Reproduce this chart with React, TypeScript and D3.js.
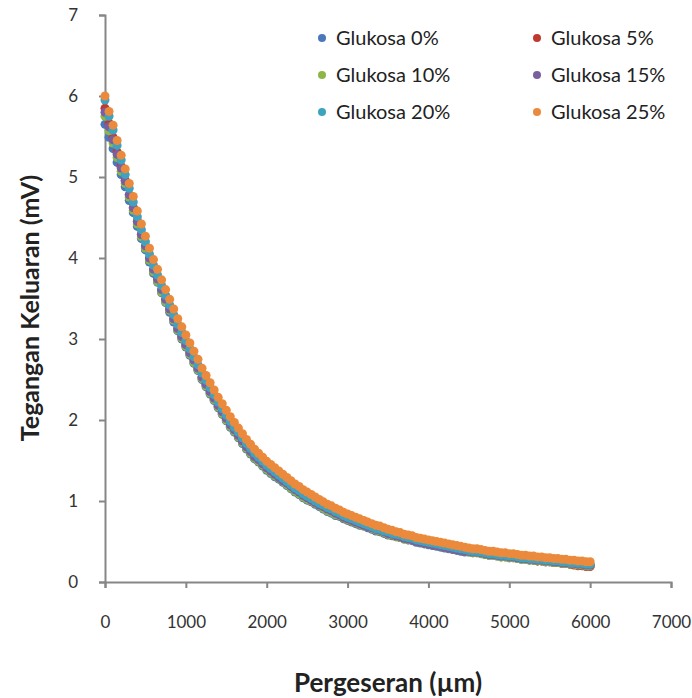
import React, { useEffect, useRef } from 'react';
import * as d3 from 'd3';

// Pergeseran (µm), sampled every 50 µm
const pergeseran = [
  0, 50, 100, 150, 200, 250, 300, 350, 400, 450, 500, 550, 600, 650, 700, 750, 800, 850, 900, 950,
  1000, 1050, 1100, 1150, 1200, 1250, 1300, 1350, 1400, 1450, 1500, 1550, 1600, 1650, 1700, 1750, 1800, 1850, 1900, 1950,
  2000, 2050, 2100, 2150, 2200, 2250, 2300, 2350, 2400, 2450, 2500, 2550, 2600, 2650, 2700, 2750, 2800, 2850, 2900, 2950,
  3000, 3050, 3100, 3150, 3200, 3250, 3300, 3350, 3400, 3450, 3500, 3550, 3600, 3650, 3700, 3750, 3800, 3850, 3900, 3950,
  4000, 4050, 4100, 4150, 4200, 4250, 4300, 4350, 4400, 4450, 4500, 4550, 4600, 4650, 4700, 4750, 4800, 4850, 4900, 4950,
  5000, 5050, 5100, 5150, 5200, 5250, 5300, 5350, 5400, 5450, 5500, 5550, 5600, 5650, 5700, 5750, 5800, 5850, 5900, 5950,
  6000,
];

const glukosa0 = [
  5.65, 5.49, 5.35, 5.18, 5.03, 4.88, 4.71, 4.56, 4.39, 4.24, 4.10, 3.95, 3.81, 3.70, 3.57, 3.45, 3.33, 3.21, 3.10, 3.00,
  2.90, 2.80, 2.70, 2.61, 2.50, 2.41, 2.32, 2.24, 2.15, 2.07, 1.99, 1.91, 1.85, 1.78, 1.71, 1.64, 1.58, 1.52, 1.48, 1.43,
  1.38, 1.34, 1.30, 1.27, 1.23, 1.19, 1.15, 1.11, 1.08, 1.04, 1.01, 0.99, 0.96, 0.93, 0.90, 0.87, 0.85, 0.82, 0.81, 0.78,
  0.76, 0.74, 0.72, 0.70, 0.69, 0.67, 0.65, 0.63, 0.62, 0.60, 0.58, 0.57, 0.56, 0.55, 0.53, 0.52, 0.51, 0.49, 0.48, 0.47,
  0.46, 0.45, 0.44, 0.43, 0.42, 0.41, 0.40, 0.39, 0.38, 0.37, 0.37, 0.36, 0.36, 0.35, 0.34, 0.33, 0.33, 0.32, 0.31, 0.31,
  0.30, 0.30, 0.29, 0.28, 0.28, 0.27, 0.27, 0.26, 0.26, 0.25, 0.25, 0.24, 0.24, 0.23, 0.23, 0.22, 0.22, 0.21, 0.21, 0.20,
  0.20,
];

const glukosa5 = [
  5.85, 5.66, 5.49, 5.31, 5.13, 4.96, 4.78, 4.62, 4.45, 4.29, 4.14, 3.99, 3.85, 3.73, 3.60, 3.49, 3.37, 3.25, 3.13, 3.03,
  2.93, 2.83, 2.73, 2.63, 2.53, 2.44, 2.35, 2.26, 2.17, 2.09, 2.02, 1.94, 1.87, 1.80, 1.73, 1.66, 1.60, 1.55, 1.50, 1.45,
  1.40, 1.36, 1.32, 1.29, 1.25, 1.21, 1.17, 1.13, 1.10, 1.06, 1.03, 1.00, 0.97, 0.95, 0.92, 0.89, 0.87, 0.84, 0.82, 0.79,
  0.77, 0.75, 0.73, 0.71, 0.70, 0.68, 0.66, 0.64, 0.63, 0.61, 0.59, 0.58, 0.56, 0.55, 0.54, 0.53, 0.52, 0.50, 0.49, 0.48,
  0.47, 0.46, 0.45, 0.44, 0.43, 0.42, 0.41, 0.40, 0.39, 0.38, 0.38, 0.37, 0.37, 0.36, 0.35, 0.34, 0.34, 0.33, 0.32, 0.32,
  0.31, 0.31, 0.30, 0.29, 0.29, 0.28, 0.27, 0.26, 0.26, 0.25, 0.25, 0.24, 0.24, 0.23, 0.23, 0.22, 0.21, 0.20, 0.20, 0.19,
  0.19,
];

const glukosa10 = [
  5.75, 5.57, 5.42, 5.24, 5.07, 4.92, 4.75, 4.59, 4.42, 4.26, 4.12, 3.97, 3.83, 3.71, 3.58, 3.46, 3.35, 3.23, 3.11, 3.01,
  2.91, 2.81, 2.71, 2.62, 2.51, 2.42, 2.33, 2.25, 2.16, 2.08, 2.00, 1.92, 1.86, 1.79, 1.72, 1.65, 1.59, 1.53, 1.49, 1.44,
  1.39, 1.35, 1.31, 1.28, 1.24, 1.20, 1.16, 1.12, 1.09, 1.05, 1.02, 1.00, 0.97, 0.94, 0.91, 0.88, 0.86, 0.83, 0.82, 0.79,
  0.77, 0.75, 0.73, 0.71, 0.69, 0.68, 0.66, 0.64, 0.63, 0.61, 0.59, 0.58, 0.56, 0.55, 0.53, 0.52, 0.52, 0.50, 0.49, 0.48,
  0.47, 0.46, 0.45, 0.44, 0.43, 0.42, 0.41, 0.40, 0.39, 0.38, 0.37, 0.36, 0.36, 0.35, 0.34, 0.33, 0.33, 0.32, 0.31, 0.31,
  0.30, 0.30, 0.29, 0.28, 0.28, 0.27, 0.27, 0.26, 0.26, 0.25, 0.25, 0.24, 0.24, 0.23, 0.23, 0.22, 0.22, 0.21, 0.21, 0.20,
  0.20,
];

const glukosa15 = [
  5.80, 5.62, 5.46, 5.28, 5.11, 4.95, 4.78, 4.62, 4.45, 4.29, 4.15, 4.00, 3.86, 3.74, 3.61, 3.49, 3.37, 3.25, 3.13, 3.03,
  2.93, 2.83, 2.74, 2.64, 2.53, 2.44, 2.35, 2.27, 2.18, 2.10, 2.02, 1.94, 1.88, 1.81, 1.74, 1.67, 1.61, 1.55, 1.51, 1.46,
  1.41, 1.37, 1.33, 1.29, 1.25, 1.22, 1.18, 1.14, 1.11, 1.07, 1.04, 1.01, 0.98, 0.95, 0.93, 0.90, 0.88, 0.85, 0.83, 0.80,
  0.78, 0.76, 0.74, 0.72, 0.70, 0.68, 0.67, 0.65, 0.64, 0.62, 0.60, 0.59, 0.57, 0.56, 0.54, 0.53, 0.52, 0.50, 0.49, 0.48,
  0.47, 0.46, 0.45, 0.44, 0.43, 0.42, 0.41, 0.40, 0.39, 0.38, 0.38, 0.37, 0.37, 0.36, 0.35, 0.34, 0.34, 0.33, 0.32, 0.32,
  0.31, 0.31, 0.30, 0.29, 0.29, 0.28, 0.28, 0.27, 0.27, 0.26, 0.26, 0.25, 0.25, 0.24, 0.24, 0.23, 0.23, 0.22, 0.22, 0.21,
  0.21,
];

const glukosa20 = [
  5.95, 5.75, 5.58, 5.39, 5.21, 5.03, 4.86, 4.69, 4.51, 4.35, 4.20, 4.05, 3.91, 3.79, 3.66, 3.54, 3.42, 3.30, 3.18, 3.08,
  2.98, 2.88, 2.78, 2.68, 2.58, 2.49, 2.40, 2.31, 2.22, 2.14, 2.06, 1.98, 1.91, 1.85, 1.78, 1.71, 1.65, 1.59, 1.54, 1.49,
  1.44, 1.40, 1.36, 1.32, 1.28, 1.24, 1.20, 1.16, 1.13, 1.09, 1.06, 1.03, 1.00, 0.97, 0.95, 0.92, 0.90, 0.87, 0.85, 0.82,
  0.80, 0.78, 0.76, 0.74, 0.72, 0.70, 0.68, 0.66, 0.65, 0.63, 0.62, 0.60, 0.59, 0.58, 0.56, 0.55, 0.54, 0.52, 0.51, 0.50,
  0.49, 0.48, 0.47, 0.46, 0.45, 0.44, 0.43, 0.42, 0.41, 0.40, 0.39, 0.38, 0.38, 0.37, 0.36, 0.35, 0.35, 0.34, 0.33, 0.33,
  0.32, 0.32, 0.31, 0.30, 0.30, 0.29, 0.29, 0.28, 0.28, 0.27, 0.27, 0.26, 0.26, 0.25, 0.25, 0.24, 0.24, 0.23, 0.23, 0.22,
  0.22,
];

const glukosa25 = [
  6.00, 5.81, 5.64, 5.45, 5.27, 5.10, 4.92, 4.76, 4.58, 4.42, 4.27, 4.12, 3.98, 3.86, 3.73, 3.61, 3.49, 3.37, 3.25, 3.15,
  3.05, 2.95, 2.85, 2.75, 2.64, 2.55, 2.46, 2.37, 2.28, 2.20, 2.12, 2.04, 1.97, 1.90, 1.83, 1.76, 1.70, 1.64, 1.59, 1.54,
  1.49, 1.45, 1.41, 1.37, 1.33, 1.29, 1.25, 1.21, 1.18, 1.14, 1.11, 1.08, 1.05, 1.02, 0.99, 0.96, 0.94, 0.91, 0.89, 0.86,
  0.84, 0.82, 0.80, 0.78, 0.76, 0.74, 0.72, 0.70, 0.69, 0.67, 0.65, 0.64, 0.62, 0.61, 0.59, 0.58, 0.57, 0.55, 0.54, 0.53,
  0.52, 0.51, 0.50, 0.49, 0.48, 0.47, 0.46, 0.45, 0.44, 0.43, 0.42, 0.41, 0.41, 0.40, 0.39, 0.38, 0.38, 0.37, 0.36, 0.36,
  0.35, 0.35, 0.34, 0.33, 0.33, 0.32, 0.32, 0.31, 0.31, 0.30, 0.30, 0.29, 0.29, 0.28, 0.28, 0.27, 0.27, 0.26, 0.26, 0.25,
  0.25,
];

const seriesNames = ['Glukosa 0%', 'Glukosa 5%', 'Glukosa 10%', 'Glukosa 15%', 'Glukosa 20%', 'Glukosa 25%'];
const seriesValues = [glukosa0, glukosa5, glukosa10, glukosa15, glukosa20, glukosa25];
const seriesColors = ['#4A78BA', '#C0392F', '#8DB547', '#7A5EA0', '#3FA3BF', '#EB8A3C'];

const xTicks = [0, 1000, 2000, 3000, 4000, 5000, 6000, 7000];
const yTicks = [0, 1, 2, 3, 4, 5, 6, 7];

const W = 692;
const H = 698;
const FONT = 'Lato, "Open Sans", sans-serif';

export default function App() {
  const svgRef = useRef<SVGSVGElement>(null);

  useEffect(() => {
    if (!svgRef.current) return;
    const svg = d3.select(svgRef.current);
    svg.selectAll('*').remove();

    const x = d3.scaleLinear().domain([0, 7000]).range([105, 671]);
    const y = d3.scaleLinear().domain([0, 7]).range([582, 15]);
    const axisColor = '#868686';

    // x axis
    const gx = svg.append('g').attr('transform', `translate(0,${y(0)})`);
    gx.call(d3.axisBottom(x).tickValues(xTicks).tickSize(6).tickFormat(d3.format('d')));
    gx.select('.domain').attr('stroke', axisColor).attr('stroke-width', 2);
    gx.selectAll('.tick line').attr('stroke', axisColor).attr('stroke-width', 2);
    gx.selectAll('.tick text')
      .attr('y', 46)
      .attr('dy', 0)
      .attr('font-family', FONT)
      .attr('font-size', 17)
      .attr('fill', '#333');

    // y axis
    const gy = svg.append('g').attr('transform', `translate(${x(0)},0)`);
    gy.call(d3.axisLeft(y).tickValues(yTicks).tickSize(6).tickFormat(d3.format('d')));
    gy.select('.domain').attr('stroke', axisColor).attr('stroke-width', 2);
    gy.selectAll('.tick line').attr('stroke', axisColor).attr('stroke-width', 2);
    gy.selectAll('.tick text')
      .attr('x', -27)
      .attr('font-family', FONT)
      .attr('font-size', 17)
      .attr('fill', '#333');

    // points, first series drawn first
    seriesValues.forEach((vals, si) => {
      svg.append('g')
        .selectAll('circle')
        .data(vals)
        .join('circle')
        .attr('cx', (_, i) => x(pergeseran[i]))
        .attr('cy', d => y(d))
        .attr('r', 4.5)
        .attr('fill', seriesColors[si]);
    });

    // legend
    const legend = svg.append('g');
    seriesNames.forEach((name, i) => {
      const col = i % 2;
      const row = Math.floor(i / 2);
      const lx = 322 + col * 215;
      const ly = 38 + row * 37;
      legend.append('circle').attr('cx', lx).attr('cy', ly).attr('r', 4).attr('fill', seriesColors[i]);
      legend.append('text')
        .attr('x', lx + 14)
        .attr('y', ly)
        .attr('dy', '0.35em')
        .attr('font-family', FONT)
        .attr('font-size', 20)
        .attr('fill', '#222')
        .text(name);
    });

    // axis titles
    svg.append('text')
      .attr('x', 388)
      .attr('y', 683)
      .attr('dy', '0.35em')
      .attr('text-anchor', 'middle')
      .attr('font-family', FONT)
      .attr('font-weight', 'bold')
      .attr('font-size', 26)
      .attr('fill', '#222')
      .text('Pergeseran (µm)');

    svg.append('text')
      .attr('transform', 'translate(30,308) rotate(-90)')
      .attr('dy', '0.35em')
      .attr('text-anchor', 'middle')
      .attr('font-family', FONT)
      .attr('font-weight', 'bold')
      .attr('font-size', 25)
      .attr('fill', '#222')
      .text('Tegangan Keluaran (mV)');
  }, []);

  return (
    <div style={{ position: 'absolute', left: 0, top: 0, width: W, height: H, background: '#fff' }}>
      <svg ref={svgRef} width={W} height={H} />
    </div>
  );
}
